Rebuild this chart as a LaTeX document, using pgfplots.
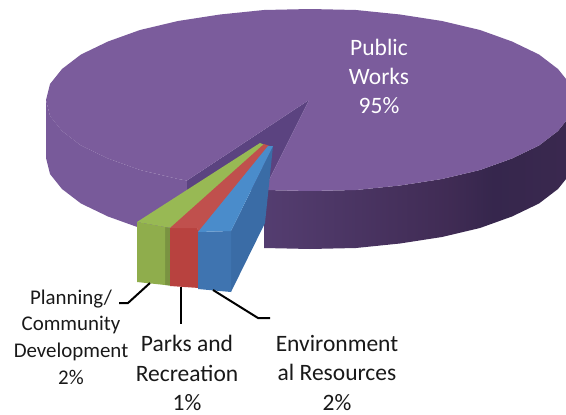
\documentclass[border=0pt]{standalone}
\usepackage{pgfplots}
\pgfplotsset{compat=1.18}
\usepackage{fontspec}
\setmainfont{Carlito}
\definecolor{ptop}{HTML}{7B5C9C}
\definecolor{pleft}{HTML}{785A9A}
\definecolor{pcut}{HTML}{5B4380}
\definecolor{gtop}{HTML}{98B954}
\definecolor{gfront}{HTML}{8FAD4C}
\definecolor{rtop}{HTML}{C0504D}
\definecolor{rfront}{HTML}{B8423F}
\definecolor{btop}{HTML}{4A8CCB}
\definecolor{bfront}{HTML}{3F74B0}
\definecolor{bside}{HTML}{3A6CA6}
\pgfdeclarehorizontalshading{rightwall}{100bp}{rgb(0bp)=(0.33,0.24,0.44);rgb(25bp)=(0.33,0.24,0.44);rgb(55bp)=(0.25,0.17,0.33);rgb(62bp)=(0.21,0.15,0.30);rgb(75bp)=(0.23,0.16,0.31);rgb(100bp)=(0.24,0.16,0.32)}
\begin{document}
\begin{tikzpicture}
\useasboundingbox (0,0) rectangle (566pt,415pt);
\begin{axis}[at={(0,0)},anchor=south west,x=1pt,y=-1pt,xmin=0,xmax=566,ymin=0,ymax=415,hide axis,clip=true]
% left wall
\addplot[fill=pleft,draw=none] coordinates {(46,100)(50,116)(62,131)(81,145.5)(108,158.5)(140,170)(178,179)(187,180.5)(187,238.5)(178,237)(140,228)(108,216.5)(81,203.5)(62,189)(50,174)(46,158)} --cycle;
% right wall
\addplot[shading=rightwall,draw=none] coordinates {(264,190)(310,191)(356,190)(400,185.5)(442,179)(480,170)(512,158.5)(539,145.5)(558,131)(570,116)(574,100)(574,158)(570,174)(558,189)(539,203.5)(512,216.5)(480,228)(442,237)(400,243.5)(356,248)(310,249)(264,248)} --cycle;
% cut wall
\addplot[fill=pcut,draw=none] coordinates {(309,100)(187,180.5)(187,190)(264,190)} --cycle;
% top surface
\addplot[fill=ptop,draw=none] coordinates {(309,100)(187,180.5)(178,179)(140,170)(108,158.5)(81,145.5)(62,131)(50,116)(46,100)(50,84)(62,69)(81,54.5)(108,41.5)(140,30)(178,21)(220,14.5)(264,10)(310,9)(356,10)(400,14.5)(442,21)(480,30)(512,41.5)(539,54.5)(558,69)(570,84)(574,100)(570,116)(558,131)(539,145.5)(512,158.5)(480,170)(442,179)(400,185.5)(356,190)(310,191)(264,190)} --cycle;
% green
\addplot[fill=gfront!85!black,draw=none] coordinates {(165,227)(172,228)(172,286)(165,285)} --cycle;
\addplot[fill=gfront,draw=none] coordinates {(137,222)(165,227)(165,285)(137,282)} --cycle;
\addplot[fill=gtop,draw=none] coordinates {(137,222)(165,227)(172,228)(265,145)(260,143)} --cycle;
% red
\addplot[fill=rfront,draw=none] coordinates {(170,228)(197,228)(199,232)(199,288)(170,286)} --cycle;
\addplot[fill=rtop,draw=none] coordinates {(170,228)(197,228)(199,233)(270,146)(264,144)} --cycle;
% blue
\addplot[fill=bside,draw=none] coordinates {(231,231)(273,146)(265,223)(231,292)} --cycle;
\addplot[fill=bfront,draw=none] coordinates {(198,232)(231,231)(231,292)(198,289)} --cycle;
\addplot[fill=btop,draw=none] coordinates {(198,232)(231,231)(273,146)(268,146)} --cycle;
% leaders
\addplot[black,line width=2pt] coordinates {(119,303)(128,303)(150,283)};
\addplot[black,line width=2pt] coordinates {(181,287)(181,324)};
\addplot[black,line width=2pt] coordinates {(213,290)(258,318)(270,318)};
% labels
\node[align=center,text=white,font=\fontsize{23.5}{29}\selectfont] at (axis cs:379,76) {Public\\Works\\95\%};
\node[align=center,text=black!90,font=\fontsize{20.9}{26.7}\selectfont] at (axis cs:71,337) {Planning/\\Community\\Development\\2\%};
\node[align=center,inner sep=0pt,text=black!90,font=\fontsize{23.5}{29.5}\selectfont] at (axis cs:187,373) {Parks and\\Recreation\\1\%};
\node[align=center,inner sep=0pt,text=black!90,font=\fontsize{23.5}{29.5}\selectfont] at (axis cs:337,373) {Environment\\al Resources\\2\%};
\end{axis}
\end{tikzpicture}
\end{document}
